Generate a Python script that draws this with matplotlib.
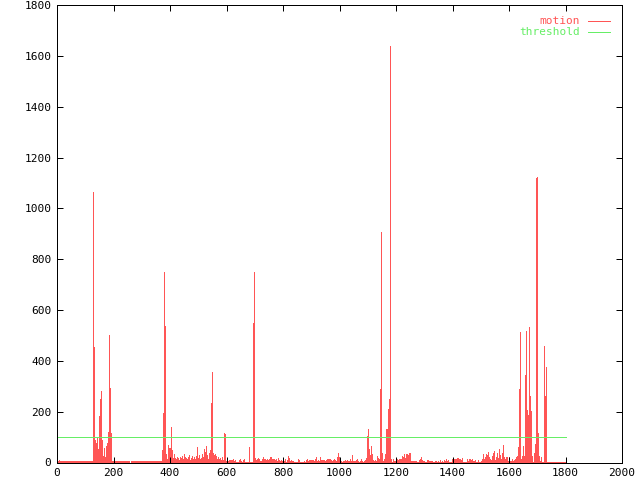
import numpy as np
import matplotlib.pyplot as plt
from matplotlib.lines import Line2D

# motion score, one sample every ~3.5 frames from frame 0 to frame 1800
quiet_1 = [6, 6, 10, 6, 6, 6, 6, 6, 6, 6,
           6, 6, 6, 6, 6, 6, 6, 6, 6, 6,
           6, 6, 6, 6, 6, 6, 6, 6, 6, 6,
           6, 6, 6, 6, 6, 6]
burst_1 = [1063, 454, 87, 75, 95, 55, 181, 248, 281, 87,
           24, 56, 20, 63, 75, 119, 501, 295, 115]
quiet_2 = [6, 6, 6, 6, 6, 6, 6, 6, 6, 6,
           6, 6, 6, 6, 6, 6, 6, 6, 0, 6,
           6, 6, 6, 6, 6, 6, 6, 6, 6, 6,
           6, 6, 6, 6, 6, 6, 6, 6, 6, 6,
           6, 6, 6, 6, 6, 6, 6, 6, 6, 6]
burst_2 = [49, 194, 750, 538, 33, 13, 69, 56, 58, 140,
           49, 16, 33, 16, 13, 20, 18, 10, 23, 16,
           26, 13, 33, 23, 16, 13, 20, 28, 10, 16,
           26, 13, 20, 13, 26, 62, 16, 28, 13, 18,
           33, 20, 52, 43, 66, 28, 13, 36, 49, 233,
           358, 36, 28, 33, 26, 13, 20, 13, 16, 10,
           23, 10, 115, 112, 7, 3, 7, 10]
middle = [10, 9, 10, 12, 6, 10, 3, 3, 3, 10,
          12, 6, 3, 10, 14, 3, 2, 2, 2, 62,
          2, 2, 2, 550, 750, 16, 10, 14, 16, 12,
          5, 5, 12, 23, 15, 15, 10, 14, 10, 15,
          23, 20, 15, 12, 15, 10, 15, 7, 19, 10,
          6, 10, 6, 10, 6, 14, 3, 10, 26, 16,
          7, 10, 5, 7, 3, 2, 2, 2, 12, 10,
          2, 2, 2, 2, 6, 2, 10, 12, 7, 10,
          10, 10, 10, 10, 6, 12, 20, 6, 10, 6,
          20, 10, 10, 10, 10, 6, 10, 15, 12, 12,
          15, 10, 6, 10, 15, 10, 6, 20, 39, 23,
          10, 6, 2, 6, 6, 10, 6, 10, 6, 7,
          12, 6, 30, 6, 6, 6, 10, 15, 6, 2,
          6, 12, 6, 2, 6, 10, 16]
burst_3 = [104, 132, 53, 30, 65, 33, 10, 6, 10, 5,
           26, 18, 12, 290, 905, 39, 7, 12, 33, 132,
           132, 211, 250, 1640, 12, 2, 12, 6, 7, 6,
           14, 10, 14, 13, 14, 26, 20, 33]
quiet_3 = [16, 33, 33, 28, 39, 39, 6, 6, 6, 6,
           6, 6, 3, 3, 10, 12, 20, 10, 6, 6,
           3, 3, 10, 10, 5, 5, 5, 6, 3, 3,
           6, 6, 3, 6, 3, 9, 3, 5, 3, 10,
           6, 12, 6, 10, 3, 3, 2, 14, 14, 14,
           14, 14, 16, 16, 14, 14, 10, 18, 3, 3,
           3, 3, 12, 7, 12, 12, 10, 14, 5, 5,
           9, 3, 3, 9, 3, 3, 7]
burst_4 = [14, 33, 12, 20, 33, 30, 43, 23, 15, 10,
           26, 36, 46, 10, 23, 36, 16, 52, 30, 15,
           36, 69, 20, 12, 23, 20, 6, 20, 6, 6,
           12, 7, 10, 12, 20, 26, 62, 290, 515, 12,
           26, 65, 26, 345, 519, 207, 187, 532, 260, 201,
           26, 3, 36, 73, 1120, 1125, 118, 26, 5, 20,
           3, 3, 459, 263, 377, 3, 3, 3, 3, 3,
           3, 3, 3, 3, 3, 3, 3, 3, 3, 3,
           3, 3, 3, 3]

motion = quiet_1 + burst_1 + quiet_2 + burst_2 + middle + burst_3 + quiet_3 + burst_4
step = 1800 / (len(motion) - 1)
frame = np.arange(len(motion)) * step
threshold = 100

red = '#ff5555'
green = '#66ee66'
mono = 'DejaVu Sans Mono'
px = 0.72  # one pixel at 100 dpi

fig = plt.figure(figsize=(6.4, 4.8), dpi=100)
ax = fig.add_axes([57 / 640, 17.5 / 480, 565 / 640, 457.5 / 480])

ax.bar(frame, motion, width=step, color=red, linewidth=0, antialiased=False)
ax.plot([0, 1800], [threshold, threshold], color=green, lw=px)

ax.set_xlim(0, 2000)
ax.set_ylim(0, 1800)
ax.set_xticks(range(0, 2001, 200))
ax.set_yticks(range(0, 1801, 200))
ax.tick_params(direction='in', length=4.5, width=px, top=True, right=True,
               labelsize=8, pad=4)
for lab in ax.get_xticklabels() + ax.get_yticklabels():
    lab.set_family(mono)
for s in ax.spines.values():
    s.set_linewidth(px)

# legend, gnuplot style (top right)
fig.text(580 / 640, 1 - 21 / 480, 'motion', ha='right', va='center',
         color=red, family=mono, size=8)
fig.text(580 / 640, 1 - 32 / 480, 'threshold', ha='right', va='center',
         color=green, family=mono, size=8)
fig.add_artist(Line2D([588 / 640, 610 / 640], [1 - 21 / 480] * 2, color=red, lw=px))
fig.add_artist(Line2D([588 / 640, 610 / 640], [1 - 32 / 480] * 2, color=green, lw=px))

fig.savefig('out.png', dpi=100)
